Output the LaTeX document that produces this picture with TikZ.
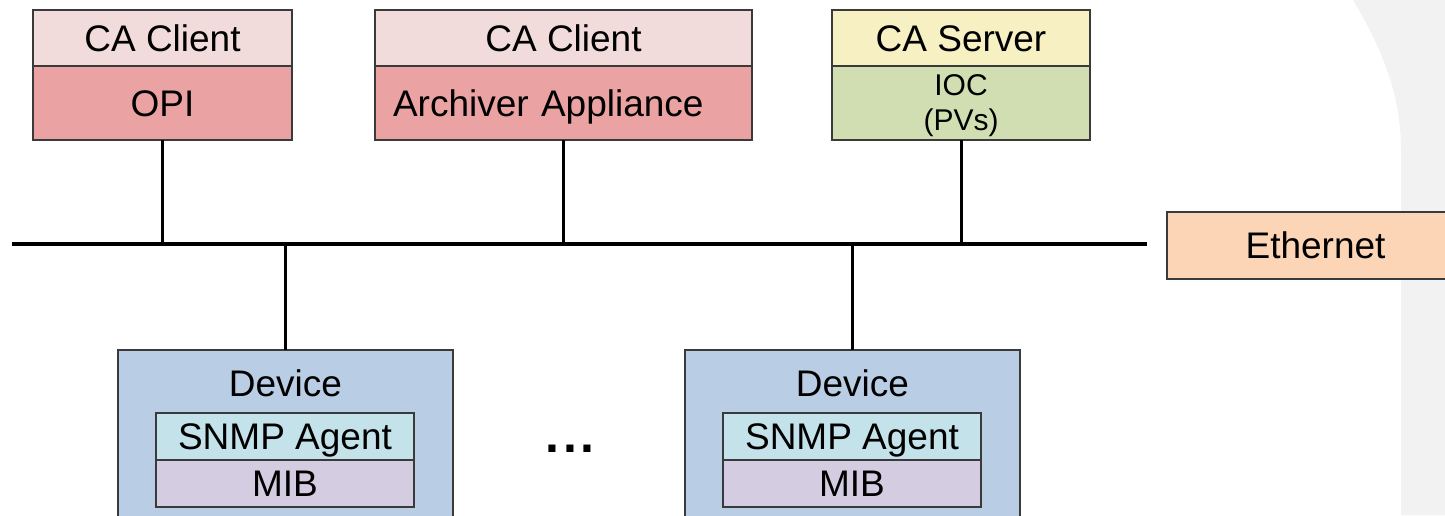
\documentclass[tikz,border=0pt]{standalone}
\usepackage{fontspec}
\setmainfont{Liberation Sans}
\definecolor{edgegray}{HTML}{3A3A3A}
\definecolor{clienttop}{HTML}{F2DCDB}
\definecolor{clientbody}{HTML}{EAA2A2}
\definecolor{servertop}{HTML}{F6F0C3}
\definecolor{serverbody}{HTML}{D1DEB2}
\definecolor{ethfill}{HTML}{FBD5B5}
\definecolor{devfill}{HTML}{B9CDE5}
\definecolor{agentfill}{HTML}{C3E2EA}
\definecolor{mibfill}{HTML}{D4CCE0}
\definecolor{panelgray}{HTML}{F2F2F2}
\tikzset{
  part/.style={draw=edgegray, line width=1.4pt, inner sep=0pt, outer sep=0pt,
    anchor=north west, font=\fontsize{37}{42}\selectfont},
  capline/.style={text height=26.5pt, text depth=0pt},
  label/.style={inner sep=0pt, font=\fontsize{37}{42}\selectfont},
  bus/.style={line width=3.4pt},
  link/.style={line width=3pt},
}
\begin{document}
\begin{tikzpicture}[x=1pt, y=-1pt]
\clip (0,0) rectangle (1445,515);
\fill[white] (0,0) rectangle (1445,515);
% grey side panel with a curved left edge
\fill[panelgray] (1353,0) .. controls (1386,55) and (1401,100) .. (1401,150)
  -- (1401,515) -- (1445,515) -- (1445,0) -- cycle;

% channel access clients and server
\node[part, capline, fill=clienttop, minimum width=259pt, minimum height=56pt] (opica) at (33,10) {CA Client};
\node[part, capline, fill=clientbody, minimum width=259pt, minimum height=74pt] (opi) at (33,66) {OPI};

\node[part, capline, fill=clienttop, minimum width=377pt, minimum height=56pt] (arcca) at (375,10) {CA Client};
\node[part, capline, fill=clientbody, minimum height=74pt, text width=377pt, inner xsep=0pt,
  align=left] (arc) at (375,66) {\hspace*{18pt}Archiver Appliance};

\node[part, capline, fill=servertop, minimum width=258pt, minimum height=56pt] (srvca) at (832,10) {CA Server};
\node[part, fill=serverbody, minimum width=258pt, minimum height=74pt, align=center,
  font=\fontsize{30}{35}\selectfont] (ioc) at (832,66) {\rule{0pt}{27pt}IOC\\(PVs)};

% ethernet bus
\coordinate (busL) at (12,244);
\coordinate (busR) at (1147,244);
\draw[bus] (busL) -- (busR);
\node[part, capline, fill=ethfill, minimum width=290pt, minimum height=67pt] (eth) at (1167,212) {\hspace*{7pt}Ethernet};

\draw[link] (opi.south) -- (opi.south |- busL);
\draw[link] (arc.south) -- (arc.south |- busL);
\draw[link] (ioc.south) -- (ioc.south |- busL);

% devices with SNMP agents
\node[part, fill=devfill, minimum width=335pt, minimum height=190pt] (dev1) at (118,350) {};
\node[label, capline, anchor=center] (dev1t) at ([yshift=-33pt]dev1.north) {Device};
\node[part, capline, fill=agentfill, minimum width=258pt, minimum height=47pt] (agent1) at (156,413) {SNMP Agent};
\node[part, capline, fill=mibfill, minimum width=258pt, minimum height=47pt] (mib1) at (156,460) {MIB};

\node[part, fill=devfill, minimum width=335pt, minimum height=190pt] (dev2) at (685,350) {};
\node[label, capline, anchor=center] (dev2t) at ([yshift=-33pt]dev2.north) {Device};
\node[part, capline, fill=agentfill, minimum width=258pt, minimum height=47pt] (agent2) at (723,413) {SNMP Agent};
\node[part, capline, fill=mibfill, minimum width=258pt, minimum height=47pt] (mib2) at (723,460) {MIB};

\draw[link] (dev1.north) -- (dev1.north |- busL);
\draw[link] (dev2.north) -- (dev2.north |- busL);

\node[inner sep=0pt, font=\fontsize{50}{50}\bfseries] (more) at (570,449) {.\kern4pt.\kern4pt.};
\end{tikzpicture}
\end{document}
